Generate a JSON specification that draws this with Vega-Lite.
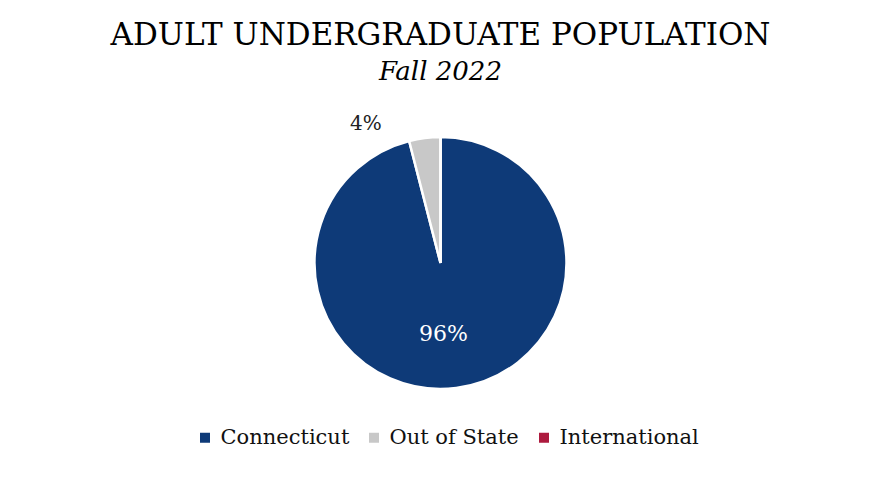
{
  "$schema": "https://vega.github.io/schema/vega-lite/v6.json",
  "width": 881,
  "height": 486,
  "autosize": {"type": "fit", "contains": "padding"},
  "padding": {"top": 20, "bottom": 62, "left": 0, "right": 0},
  "background": "white",
  "title": {
    "text": "ADULT UNDERGRADUATE POPULATION",
    "subtitle": "Fall 2022",
    "anchor": "middle",
    "font": "DejaVu Serif",
    "fontSize": 31,
    "fontWeight": "normal",
    "color": "#000000",
    "subtitleFont": "DejaVu Serif",
    "subtitleFontSize": 26,
    "subtitleFontStyle": "italic",
    "subtitleColor": "#000000",
    "subtitlePadding": 7,
    "offset": 16
  },
  "data": {
    "values": [
      {"region": "Connecticut", "pct": 96, "label": "96%", "order": 1},
      {"region": "Out of State", "pct": 4, "label": "4%", "order": 2},
      {"region": "International", "pct": 0, "label": "", "order": 3}
    ]
  },
  "encoding": {
    "theta": {"field": "pct", "type": "quantitative", "stack": true},
    "order": {"field": "order", "type": "quantitative"},
    "color": {
      "field": "region",
      "type": "nominal",
      "scale": {
        "domain": ["Connecticut", "Out of State", "International"],
        "range": ["#0e3a78", "#c8c8c8", "#ad1a3e"]
      },
      "legend": {
        "title": null,
        "orient": "none",
        "legendX": {"expr": "width/2 - 246"},
        "legendY": {"expr": "height + 3"},
        "direction": "horizontal",
        "symbolType": "square",
        "symbolSize": 100,
        "symbolStrokeWidth": 0,
        "labelFont": "DejaVu Serif",
        "labelFontSize": 21,
        "labelColor": "#111111",
        "columnPadding": 14,
        "symbolOffset": 0,
        "labelOffset": 5
      }
    }
  },
  "layer": [
    {
      "mark": {"type": "arc", "outerRadius": 126, "stroke": "white", "strokeWidth": 2.5}
    },
    {
      "transform": [{"filter": "datum.region === 'Connecticut'"}],
      "mark": {"type": "text", "radius": 72, "font": "DejaVu Serif", "fontSize": 22, "dx": -6},
      "encoding": {
        "text": {"field": "label"},
        "color": {"value": "white"}
      }
    },
    {
      "transform": [{"filter": "datum.region === 'Out of State'"}],
      "mark": {"type": "text", "radius": 146, "font": "DejaVu Serif", "fontSize": 20, "dx": -93, "dy": 6},
      "encoding": {
        "text": {"field": "label"},
        "color": {"value": "#222222"}
      }
    }
  ],
  "config": {"view": {"stroke": null}}
}
